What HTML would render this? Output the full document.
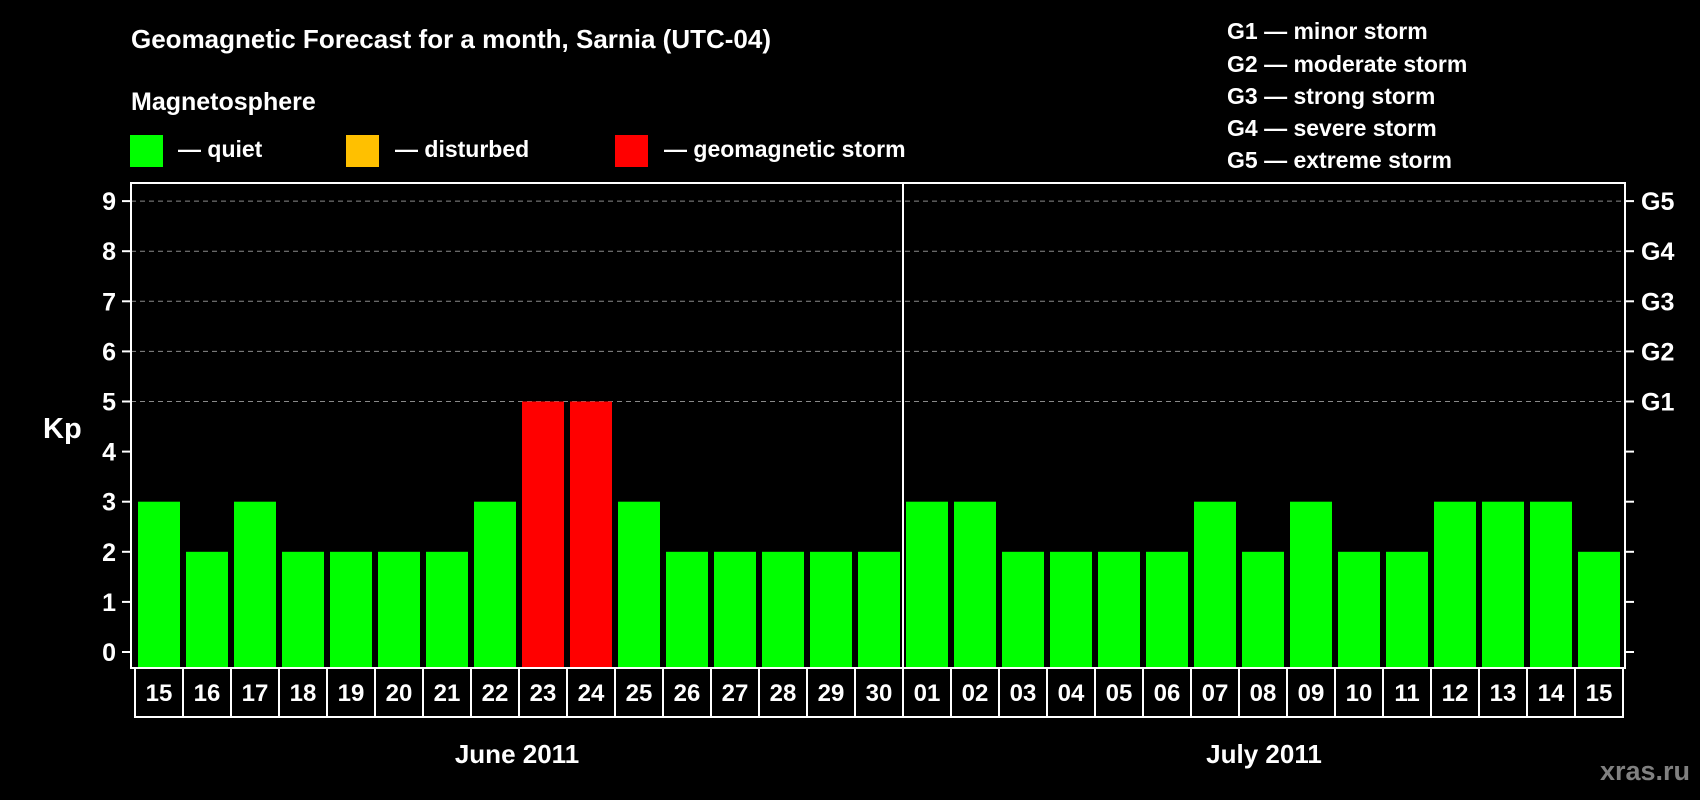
<!DOCTYPE html>
<html><head><meta charset="utf-8"><style>
html,body{margin:0;padding:0;background:#000;}
svg{display:block;}
text{font-family:"Liberation Sans",Arial,sans-serif;font-weight:bold;fill:#fff;}
</style></head><body>
<svg id="chart" width="1700" height="800" viewBox="0 0 1700 800" xmlns="http://www.w3.org/2000/svg">
<rect width="1700" height="800" fill="#000"/>
<text x="131" y="48" font-size="26">Geomagnetic Forecast for a month, Sarnia (UTC-04)</text>
<text x="131" y="110" font-size="25">Magnetosphere</text>
<g><rect x="130" y="135" width="33" height="32" fill="#00ff00"/><text x="178" y="157" font-size="23">— quiet</text></g>
<g><rect x="346" y="135" width="33" height="32" fill="#ffc000"/><text x="395" y="157" font-size="23">— disturbed</text></g>
<g><rect x="615" y="135" width="33" height="32" fill="#ff0000"/><text x="664" y="157" font-size="23">— geomagnetic storm</text></g>
<g font-size="23">
<text x="1227" y="39">G1 — minor storm</text>
<text x="1227" y="72">G2 — moderate storm</text>
<text x="1227" y="104">G3 — strong storm</text>
<text x="1227" y="136">G4 — severe storm</text>
<text x="1227" y="168">G5 — extreme storm</text>
</g>
<text x="43" y="438" font-size="29">Kp</text>
<g id="grid"></g><g id="bars"></g><g id="axes"></g><g id="xlabels"></g>
<text x="517" y="763" font-size="26" text-anchor="middle">June 2011</text>
<text x="1264" y="763" font-size="26" text-anchor="middle">July 2011</text>
<text x="1690" y="780" font-size="27" text-anchor="end" style="fill:#808080">xras.ru</text>
</svg>
<script>
const days = ["15","16","17","18","19","20","21","22","23","24","25","26","27","28","29","30","01","02","03","04","05","06","07","08","09","10","11","12","13","14","15"];
const kp = [3,2,3,2,2,2,2,3,5,5,3,2,2,2,2,2,3,3,2,2,2,2,3,2,3,2,2,3,3,3,2];
const yTicks = [0,1,2,3,4,5,6,7,8,9];
const gLabels = ["","","","","","G1","G2","G3","G4","G5"];
const NS="http://www.w3.org/2000/svg";
const L=131,R=1625,T=183,B=668,Y0=652,UNIT=50.1,SLOT=48,DIV=903;
function y(v){return Y0-v*UNIT;}
function boxX(i){return i<16?DIV-(16-i)*SLOT:DIV+(i-16)*SLOT;}
function mk(tag,attrs,parent){const e=document.createElementNS(NS,tag);for(const k in attrs)e.setAttribute(k,attrs[k]);parent.appendChild(e);return e;}
function color(v){return v>=5?"#ff0000":v>=4?"#ffc000":"#00ff00";}
const grid=document.getElementById('grid'),bars=document.getElementById('bars'),axes=document.getElementById('axes'),xl=document.getElementById('xlabels');
yTicks.forEach((t,i)=>{
  if(t>=5){const g=mk('line',{x1:L,x2:R,y1:y(t),y2:y(t),stroke:'#8a8a8a','stroke-width':1,'stroke-dasharray':'5,4'},grid);
  
  }
  const tl=mk('line',{x1:L-9,x2:L,y1:y(t),y2:y(t),stroke:'#fff','stroke-width':2},axes);
  
  
  const tr=mk('line',{x1:R,x2:R+9,y1:y(t),y2:y(t),stroke:'#fff','stroke-width':2},axes);
  
  
  const lb=mk('text',{x:116,y:y(t)+9,'font-size':25,'text-anchor':'end'},axes);lb.textContent=t;
  
  
  if(gLabels[i]){const gl=mk('text',{x:1641,y:y(t)+9,'font-size':25},axes);gl.textContent=gLabels[i];
  
  }
});
kp.forEach((v,i)=>{
  const bx=boxX(i)+3;
  const r=mk('rect',{x:bx,y:y(v),width:42,height:B-y(v),fill:color(v)},bars);
  
  
  const b=mk('rect',{x:boxX(i),y:B,width:SLOT,height:49,fill:'none',stroke:'#fff','stroke-width':2},xl);
  
  
  const t=mk('text',{x:boxX(i)+SLOT/2,y:701,'font-size':24,'text-anchor':'middle'},xl);t.textContent=days[i];
  
  
});
const fr=mk('rect',{x:L,y:T,width:R-L,height:B-T,fill:'none',stroke:'#fff','stroke-width':2},axes);


const dv=mk('line',{x1:DIV,x2:DIV,y1:T,y2:717,stroke:'#fff','stroke-width':2},axes);


</script>
</body></html>
